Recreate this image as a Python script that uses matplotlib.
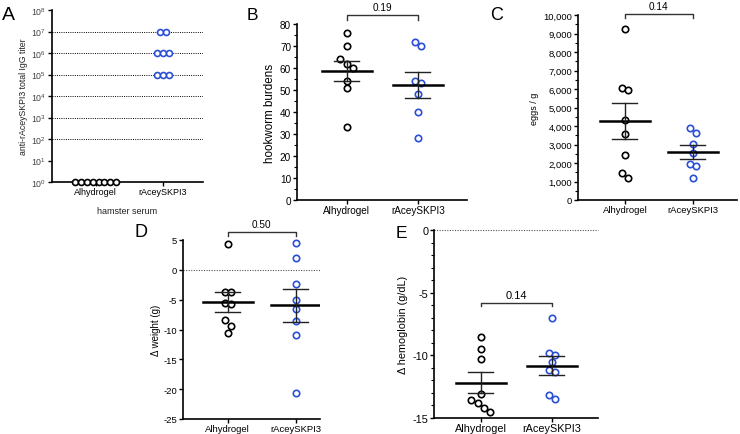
import numpy as np
import matplotlib
matplotlib.use("Agg")
import matplotlib.pyplot as plt
from matplotlib.ticker import MultipleLocator, FuncFormatter

plt.rcParams['font.family'] = ['Liberation Sans', 'DejaVu Sans']
plt.rcParams['axes.unicode_minus'] = False
plt.rcParams['mathtext.fontset'] = 'custom'
plt.rcParams['mathtext.rm'] = 'Liberation Sans'
plt.rcParams['mathtext.it'] = 'Liberation Sans:italic'

groups = ["Alhydrogel", "rAceySKPI3"]
blue = "#2b4fd6"

# A: titers (log10 exponents), one value per hamster
titer_alum = [0, 0, 0, 0, 0, 0, 0, 0]
titer_skpi = [7, 7, 6, 6, 6, 5, 5, 5]

# B: hookworm burdens
worms_alum = [76, 70, 64, 62, 60, 54, 51, 33]
worms_skpi = [72, 70, 54, 53, 48, 40, 28]

# C: eggs per gram
eggs_alum = [9230, 6030, 5950, 4320, 3560, 2430, 1460, 1170]
eggs_skpi = [3890, 3620, 3040, 2540, 1940, 1840, 1170]

# D: weight change (g)
weight_alum = [4.3, -3.7, -3.7, -5.6, -5.8, -8.4, -9.4, -10.6]
weight_skpi = [4.5, 1.9, -2.4, -5.1, -6.6, -8.5, -11.0, -20.6]

# E: hemoglobin change (g/dL)
hb_alum = [-8.5, -9.5, -10.3, -13.1, -13.6, -13.8, -14.2, -14.5]
hb_skpi = [-7.0, -9.8, -10.0, -10.5, -11.2, -11.3, -13.2, -13.5]

pvals = {"B": "0.19", "C": "0.14", "D": "0.50", "E": "0.14"}

fig = plt.figure(figsize=(7.4, 4.35), dpi=100)
W, H = 740, 435


def add_axes(x0, x1, ytop, ybot):
    return fig.add_axes([x0 / W, 1 - ybot / H, (x1 - x0) / W, (ybot - ytop) / H])


def px_per_x(ax):
    lo, hi = ax.get_xlim()
    return ax.get_position().width * W / (hi - lo)


def swarm(ax, xc, vals, color, diam=6.3, ms=4.6):
    # group points that overlap vertically and spread them side by side
    ys = np.array(vals, dtype=float)
    disp = np.array([ax.transData.transform((xc, v))[1] for v in ys])
    order = np.argsort(-disp)
    groups_ = []
    for i in order:
        if groups_ and abs(disp[groups_[-1][-1]] - disp[i]) < diam * 0.95:
            groups_[-1].append(i)
        else:
            groups_.append([i])
    k = px_per_x(ax)
    xs = np.zeros(len(ys))
    for g in groups_:
        n = len(g)
        for j, i in enumerate(g):
            xs[i] = xc + (j - (n - 1) / 2) * diam / k
    ax.plot(xs, ys, 'o', mfc='white', mec=color, ms=ms, mew=1.2, zorder=3,
            clip_on=False)


def mean_sem(ax, xc, vals):
    v = np.array(vals, dtype=float)
    m = v.mean()
    s = v.std(ddof=1) / np.sqrt(len(v))
    k = px_per_x(ax)
    hw, cw = 25 / k, 12.5 / k
    ax.plot([xc - hw, xc + hw], [m, m], color='black', lw=1.8, zorder=4)
    ax.plot([xc, xc], [m - s, m + s], color='#222222', lw=1.0, zorder=4)
    for e in (m - s, m + s):
        ax.plot([xc - cw, xc + cw], [e, e], color='#222222', lw=1.0, zorder=4)


def style(ax, fs):
    for sp in ('top', 'right'):
        ax.spines[sp].set_visible(False)
    for sp in ('left', 'bottom'):
        ax.spines[sp].set_linewidth(1.2)
    ax.tick_params(axis='both', which='major', length=3, width=1.0,
                   labelsize=fs, pad=1.2, colors='black')
    ax.tick_params(axis='x', which='major', pad=0.8)
    ax.tick_params(axis='both', which='minor', length=2, width=0.8)
    ax.set_xticks([0, 1])
    ax.set_xticklabels(groups)


def bracket(ax, text, y_line, y_end, y_text, fs, trans='axes'):
    tr = ax.get_xaxis_transform() if trans == 'axes' else ax.transData
    ax.plot([0, 0, 1, 1], [y_end, y_line, y_line, y_end], color='#333333',
            lw=1.0, transform=tr, clip_on=False)
    ax.text(0.5, y_text, text, transform=tr, ha='center', va='bottom',
            fontsize=fs)


comma = FuncFormatter(lambda v, p: f"{int(v):,}")

# ---- A ----
axA = add_axes(52, 203, 11, 183)
axA.set_yscale('log')
axA.set_ylim(1, 1e8)
axA.set_xlim(-0.65, 1.6)
style(axA, 6.5)
axA.set_yticks([10.0 ** e for e in range(9)])
axA.set_yticklabels([r'$10^{%d}$' % e for e in range(9)], fontsize=6.3,
                    color='#444444')
axA.yaxis.set_minor_locator(plt.NullLocator())
for e in range(2, 8):
    axA.axhline(10.0 ** e, color='black', lw=0.7, ls=(0, (1, 1.3)), zorder=1)
axA.set_ylabel("anti-rAceySKPI3 total IgG titer", fontsize=6.3, labelpad=2,
               color='#222222')
axA.set_xlabel("hamster serum", fontsize=6.5, labelpad=7, color='#222222')
swarm(axA, 0, [10.0 ** e for e in titer_alum], 'black', diam=5.9, ms=4.3)
swarm(axA, 1, [10.0 ** e for e in titer_skpi], blue, diam=5.9, ms=4.3)

# ---- B ----
axB = add_axes(297, 467, 25, 201)
axB.set_ylim(0, 80)
axB.set_xlim(-0.70, 1.69)
style(axB, 7.2)
axB.yaxis.set_major_locator(MultipleLocator(10))
axB.yaxis.set_minor_locator(MultipleLocator(5))
axB.set_ylabel("hookworm burdens", fontsize=8.4, labelpad=3)
swarm(axB, 0, worms_alum, 'black')
swarm(axB, 1, worms_skpi, blue)
mean_sem(axB, 0, worms_alum)
mean_sem(axB, 1, worms_skpi)
bracket(axB, pvals["B"], 1.053, 1.025, 1.07, 7.2)

# ---- C ----
axC = add_axes(578, 737, 16, 201)
axC.set_ylim(0, 10000)
axC.set_xlim(-0.69, 1.65)
style(axC, 6.8)
axC.yaxis.set_major_locator(MultipleLocator(1000))
axC.yaxis.set_minor_locator(MultipleLocator(500))
axC.yaxis.set_major_formatter(comma)
axC.set_ylabel("eggs / g", fontsize=6.5, labelpad=3)
swarm(axC, 0, eggs_alum, 'black')
swarm(axC, 1, eggs_skpi, blue)
mean_sem(axC, 0, eggs_alum)
mean_sem(axC, 1, eggs_skpi)
bracket(axC, pvals["C"], 1.004, 0.982, 1.02, 7.2)

# ---- D ----
axD = add_axes(183, 320, 241, 420)
axD.set_ylim(-25, 5)
axD.set_xlim(-0.66, 1.36)
style(axD, 6.8)
axD.yaxis.set_major_locator(MultipleLocator(5))
axD.axhline(0, color='#555555', lw=0.8, ls=(0, (1, 1.3)), zorder=1)
axD.set_ylabel("\u0394 weight (g)", fontsize=7, labelpad=2)
swarm(axD, 0, weight_alum, 'black')
swarm(axD, 1, weight_skpi, blue)
mean_sem(axD, 0, weight_alum)
mean_sem(axD, 1, weight_skpi)
bracket(axD, pvals["D"], 1.046, 1.025, 1.06, 7.2)

# ---- E ----
axE = add_axes(434, 598, 231, 419)
axE.set_ylim(-15, 0)
axE.set_xlim(-0.66, 1.65)
style(axE, 7.8)
axE.yaxis.set_major_locator(MultipleLocator(5))
axE.yaxis.set_minor_locator(MultipleLocator(1))
axE.axhline(0, color='#555555', lw=0.8, ls=(0, (1, 1.3)), zorder=1,
            clip_on=False)
axE.set_ylabel("\u0394 hemoglobin (g/dL)", fontsize=7.8, labelpad=3)
swarm(axE, 0, hb_alum, 'black')
swarm(axE, 1, hb_skpi, blue)
mean_sem(axE, 0, hb_alum)
mean_sem(axE, 1, hb_skpi)
bracket(axE, pvals["E"], -5.8, -6.1, -5.55, 8, trans='data')

# panel letters
for lab, x, y, fs in [("A", 8, 16, 14), ("B", 252, 16, 12.5), ("C", 497, 16, 13),
                      ("D", 141, 233, 13), ("E", 401, 234, 12.5)]:
    fig.text(x / W, 1 - y / H, lab, fontsize=fs, ha='center', va='center')

fig.savefig("out.png", dpi=100)
